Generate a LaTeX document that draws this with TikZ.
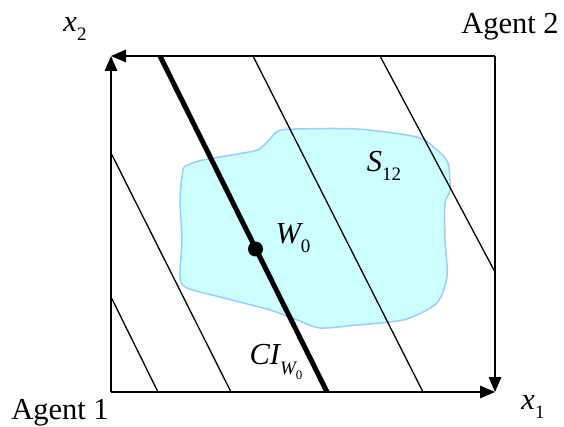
\documentclass[tikz,border=0pt]{standalone}
\usepackage{fontspec}
\setmainfont{Liberation Serif}
\usetikzlibrary{arrows.meta}
\newcommand{\lsub}[1]{\raisebox{-0.3em}{\fontsize{19}{20}\selectfont #1}}
\begin{document}
\begin{tikzpicture}[x=1pt,y=-1pt,
  frame/.style={line width=1.6pt,-{Triangle[length=15pt,width=12.5pt]}},
  thinline/.style={line width=1.3pt},
  thickline/.style={line width=5pt},
  lbl/.style={font=\fontsize{30.5}{34}\selectfont, inner sep=0pt},
  mlbl/.style={font=\fontsize{30.5}{34}\selectfont\itshape, inner sep=0pt}
]
\useasboundingbox (0,0) rectangle (564,427);
\definecolor{blobfill}{RGB}{204,255,255}
\definecolor{blobline}{RGB}{153,204,255}
% blob S12
\draw[fill=blobfill, draw=blobline, line width=1.5pt]
  plot[smooth cycle, tension=0.45] coordinates {
   (188,165) (203,160) (254,151) (263,146) (270,139) (278,131) (295,129)
   (357,129) (417,137) (437,150) (448,163) (450,190) (445,203) (445,240)
   (447,277) (437,303) (410,318) (390,322) (357,325) (320,328) (297,320)
   (270,310) (220,297) (187,288) (180,277) (182,240) (180,200) (183,170)};
% corners
\coordinate (TL) at (111,56);
\coordinate (TR) at (495,56);
\coordinate (BL) at (111,392);
\coordinate (BR) at (495,392);
% frame arrows
\draw[frame] (TR) -- (TL);
\draw[frame] (BL) -- (TL);
\draw[frame] (BL) -- (BR);
\draw[frame] (TR) -- (BR);
% indifference lines
\coordinate (a1) at (111,297); \coordinate (a2) at (158,392);
\coordinate (b1) at (111,153); \coordinate (b2) at (231,392);
\coordinate (c1) at (253,56);  \coordinate (c2) at (423,392);
\coordinate (d1) at (380,56);  \coordinate (d2) at (495,272);
\coordinate (k1) at (160,56);  \coordinate (k2) at (327,392);
\draw[thinline] (a1) -- (a2);
\draw[thinline] (b1) -- (b2);
\draw[thinline] (c1) -- (c2);
\draw[thinline] (d1) -- (d2);
\draw[thickline] (k1) -- (k2);
% W0 point
\node[circle, fill=black, inner sep=0pt, minimum size=15pt] (w0) at (255.5,249) {};
% labels
\node[mlbl] (x2) at (75,29) {x\lsub{\upshape 2}};
\node[mlbl] (x1) at (533,407) {x\lsub{\upshape 1}};
\node[lbl] (ag2) at (510,27) {Agent 2};
\node[lbl] (ag1) at (60,413) {Agent 1};
\node[mlbl] (w0l) at (293,238) {W\lsub{\upshape 0}};
\node[mlbl] (s12) at (384,166) {S\lsub{\upshape 12}};
\node[mlbl] (ci) at (276,362) {CI\raisebox{-0.35em}{\fontsize{19}{20}\selectfont W\raisebox{-0.25em}{\fontsize{13}{14}\selectfont\upshape 0}}};
\end{tikzpicture}
\end{document}
